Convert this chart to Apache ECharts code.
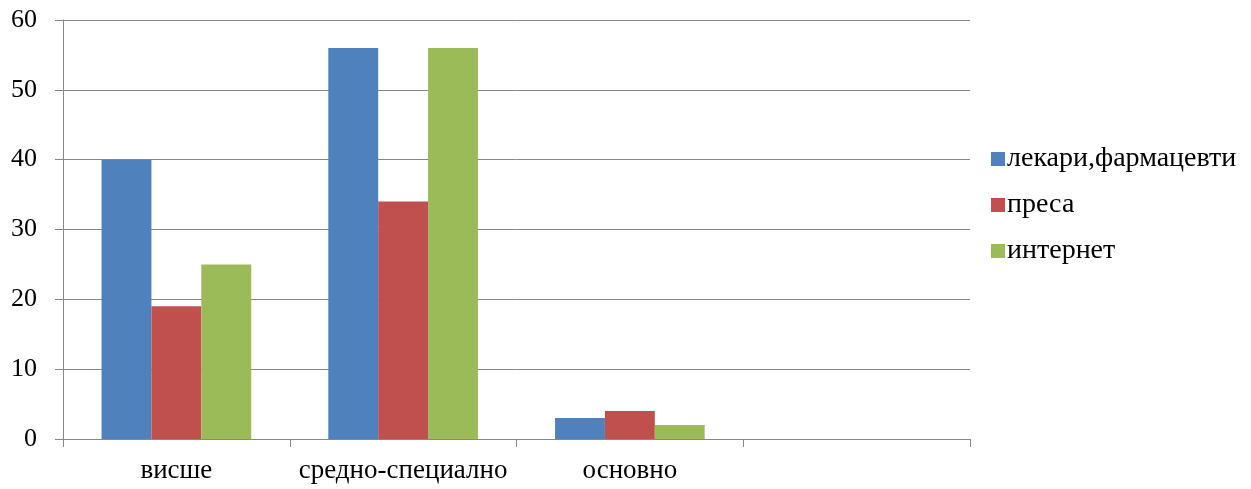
<!DOCTYPE html>
<html><head><meta charset="utf-8">
<script src="https://cdn.jsdelivr.net/npm/echarts@6/dist/echarts.min.js"></script>
<style>html,body{margin:0;padding:0;background:#fff}#c{width:1251px;height:489px}</style>
</head><body><div id="c"></div>
<script>
const categories = ['висше', 'средно-специално', 'основно', ''];
const seriesNames = ['лекари,фармацевти', 'преса', 'интернет'];
const doctors = [40, 56, 3, null];
const press = [19, 34, 4, null];
const internet = [25, 56, 2, null];
const colors = ['#4F81BD', '#C0504D', '#9BBB59'];
const font = '"Liberation Serif", "Times New Roman", serif';
const chart = echarts.init(document.getElementById('c'));
chart.setOption({
  animation: false,
  textStyle: { fontFamily: font },
  grid: { left: 63, right: 281, top: 20, bottom: 50, containLabel: false },
  legend: {
    orient: 'vertical', left: 986, top: 140, itemGap: 18,
    itemWidth: 14, itemHeight: 14, icon: 'rect',
    textStyle: { fontFamily: font, fontSize: 28, color: '#000', padding: [0,0,0,-3] },
    data: seriesNames
  },
  xAxis: {
    type: 'category', data: categories,
    axisLine: { lineStyle: { color: '#888', width: 1 } },
    axisTick: { show: true, interval: 0, length: 8, lineStyle: { color: '#888' } },
    axisLabel: { interval: 0, fontFamily: font, fontSize: 27, color: '#000', margin: 18 }
  },
  yAxis: {
    type: 'value', min: 0, max: 60, interval: 10,
    axisLine: { show: true, lineStyle: { color: '#888' } },
    axisTick: { show: true, length: 8, lineStyle: { color: '#888' } },
    splitLine: { lineStyle: { color: '#888', width: 1 } },
    axisLabel: { fontFamily: font, fontSize: 26, color: '#000', margin: 26 }
  },
  series: [
    { name: seriesNames[0], type: 'bar', data: doctors, itemStyle: { color: colors[0] }, barGap: '0%', barCategoryGap: '34%' },
    { name: seriesNames[1], type: 'bar', data: press, itemStyle: { color: colors[1] }, barGap: '0%', barCategoryGap: '34%' },
    { name: seriesNames[2], type: 'bar', data: internet, itemStyle: { color: colors[2] }, barGap: '0%', barCategoryGap: '34%' }
  ]
});
</script></body></html>
